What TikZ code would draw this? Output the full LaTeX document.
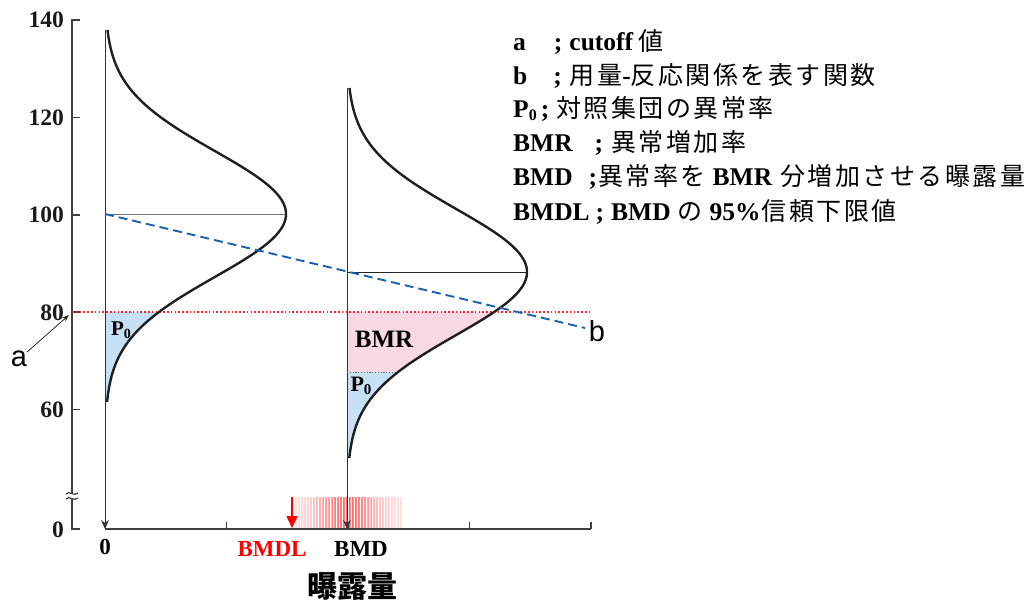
\documentclass[tikz,border=0pt]{standalone}
\usepackage{fontspec}
\setmainfont{Liberation Serif}
\newfontfamily\jp[LetterSpace=10]{Noto Sans CJK JP}
\newfontfamily\jpb{Noto Sans CJK JP}
\newfontfamily\lsans{Liberation Sans}
\usetikzlibrary{arrows.meta}
\definecolor{pfill}{RGB}{198,224,245}
\definecolor{bmrfill}{RGB}{248,216,226}
\definecolor{dashblue}{RGB}{25,95,180}
\newcommand\J[1]{{\mdseries\jp\fontsize{25}{29}\selectfont #1}}
\tikzset{
  curve/.style={line width=2.4pt, draw=black!88},
  vline/.style={line width=0.9pt, draw=black!80},
  axisline/.style={line width=1.8pt, draw=black!75},
  ylab/.style={anchor=base east, inner sep=0pt, font=\fontsize{23.5}{23.5}\selectfont\bfseries, text=black!90},
  xlab/.style={anchor=base, inner sep=0pt, font=\fontsize{23}{23}\selectfont\bfseries},
  leg/.style={anchor=base west, inner sep=0pt, font=\fontsize{25.5}{29}\selectfont\bfseries},
  letter/.style={inner sep=0pt, font=\fontsize{29}{29}\selectfont\lsans},
}
\begin{document}
\begin{tikzpicture}[x=1pt,y=-1pt]
\useasboundingbox (0,0) rectangle (1035,601);

% fills
\fill[pfill] (105,312) -- plot[domain=312:402,samples=60] ({105+181*exp(-0.5*((\x-214)/63)*((\x-214)/63))},\x) -- (105,402) -- cycle;
\fill[bmrfill] (347,312) -- plot[domain=312:372,samples=40] ({347+180*exp(-0.5*((\x-272)/63)*((\x-272)/63))},\x) -- (347,372) -- cycle;
\fill[pfill] (347,372) -- plot[domain=372:458,samples=60] ({347+180*exp(-0.5*((\x-272)/63)*((\x-272)/63))},\x) -- (347,458) -- cycle;

% red exposure band
\foreach \i in {0,...,73} {
  \pgfmathsetmacro\xx{292+1.5*\i}
  \pgfmathsetmacro\op{0.1+0.5*exp(-((\xx-347)/30)*((\xx-347)/30))*(0.6+0.4*abs(sin(\i*97)))}
  \draw[red, opacity=\op, line width=0.9pt] (\xx,497) -- (\xx,528);
}

% y axis
\draw[axisline] (80,20) -- (72,20) -- (72,529) -- (80,529);
\foreach \yy in {117.5,215,312,409.5} \draw[axisline] (72,\yy) -- (80,\yy);
\fill[white] (66,493.5) rectangle (78,498.5);
\draw[line width=1.2pt, black!75] (66,494) .. controls (69,490) and (74,497) .. (78,493);
\draw[line width=1.2pt, black!75] (66,499) .. controls (69,495) and (74,502) .. (78,498);

\node[ylab] (y140) at (64,28) {140};
\node[ylab] (y120) at (64,125.5) {120};
\node[ylab] (y100) at (64,223) {100};
\node[ylab] (y80) at (64,320) {80};
\node[ylab] (y60) at (64,417.5) {60};
\node[ylab] (y0) at (64,537.5) {0};

% x axis
\draw[axisline] (105,529) -- (591,529);
\foreach \xt in {226.5,348,469.5,591} \draw[axisline] (\xt,529) -- (\xt,522);

% vertical lines with arrows
\coordinate (top1) at (105,30);
\coordinate (bot1) at (105,529);
\coordinate (top2) at (347,88);
\coordinate (bot2) at (347,529);
\draw[vline, -{Stealth[length=9pt,width=8pt]}] (top1) -- (bot1);
\draw[vline, -{Stealth[length=9pt,width=8pt]}] (top2) -- (bot2);

% mean lines
\draw[line width=0.8pt, black!55] (105,214) -- (286,214);
\draw[line width=0.8pt, black!85] (347,272) -- (527,272);

% cutoff line
\draw[red!85, line width=1.1pt, dash pattern=on 1.6pt off 2.2pt] (72,312) -- (591,312);
% P0 boundary right
\draw[black!60, line width=0.8pt, dash pattern=on 1.2pt off 1.6pt] (347,372) -- (398,372);

% curves
\draw[curve] plot[domain=30:402,samples=150] ({105+181*exp(-0.5*((\x-214)/63)*((\x-214)/63))},\x);
\draw[curve] plot[domain=88:458,samples=150] ({347+180*exp(-0.5*((\x-272)/63)*((\x-272)/63))},\x);

% dose-response line
\coordinate (b0) at (105,214);
\coordinate (b1) at (585,328);
\draw[dashblue, line width=1.9pt, dash pattern=on 9pt off 5pt] (b0) -- (b1);

% labels inside
\node[inner sep=0pt, font=\fontsize{21}{21}\selectfont\bfseries] (p0a) at (121,330) {P\raisebox{-2.5pt}{\fontsize{14}{14}\selectfont 0}};
\node[inner sep=0pt, font=\fontsize{25}{25}\selectfont\bfseries] (bmr) at (384,339) {BMR};
\node[inner sep=0pt, font=\fontsize{22}{22}\selectfont\bfseries] (p0b) at (361,386) {P\raisebox{-2.5pt}{\fontsize{15}{15}\selectfont 0}};

% a and b
\node[letter] (la) at (19,359) {a};
\coordinate (aend) at (69,315);
\draw[line width=0.8pt, black!85, -{Stealth[length=7pt,width=5pt]}] (27,352) -- (aend);
\node[letter] (lb) at (597,331) {b};

% arrows at dose axis
\coordinate (bmdlTop) at (292,497);
\coordinate (bmdlBot) at (292,528);
\draw[red, line width=1.6pt, -{Triangle[length=12pt,width=11pt]}] (bmdlTop) -- (bmdlBot);

% x labels
\node[xlab] (x0) at (105,554) {0};
\node[xlab, text=red] (bmdl) at (272,556) {BMDL};
\node[xlab] (bmd) at (361,556) {BMD};
\node[inner sep=0pt, font=\fontsize{30}{30}\selectfont\jpb\bfseries] (xl) at (352,586) {曝露量};

% legend
\node[leg] (l1) at (513,51) {a\hspace{28pt};\hspace{7pt}cutoff\hspace{5pt}\J{値}};
\node[leg] (l2) at (513,85) {b\hspace{26pt};\hspace{8pt}\J{用量}-\J{反応関係を表す関数}};
\node[leg] (l3) at (513,118) {P\raisebox{-3pt}{\fontsize{16}{16}\selectfont 0}\hspace{4pt};\hspace{7pt}\J{対照集団の異常率}};
\node[leg] (l4) at (513,152) {BMR\hspace{22pt};\hspace{8pt}\J{異常増加率}};
\node[leg] (l5) at (513,186) {BMD\hspace{16pt};\hspace{1pt}\J{異常率を}\hspace{7pt}BMR\hspace{8pt}\J{分増加させる曝露量}};
\node[leg] (l6) at (513,221) {BMDL\hspace{6pt};\hspace{7pt}BMD\hspace{7pt}\J{の}\hspace{7pt}95\%\hspace{1pt}\J{信頼下限値}};
\end{tikzpicture}
\end{document}
